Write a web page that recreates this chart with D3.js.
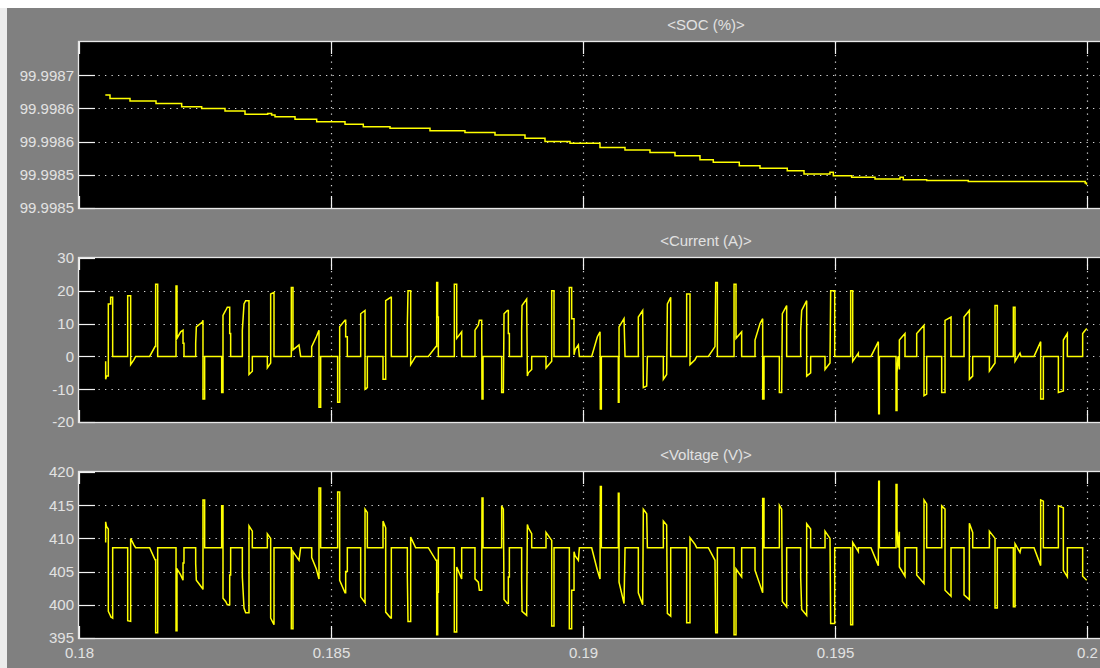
<!DOCTYPE html>
<html><head><meta charset="utf-8">
<script src="https://cdn.jsdelivr.net/npm/d3@7"></script>
<style>body{margin:0;background:#808080;overflow:hidden}svg{display:block}</style>
</head><body>
<svg id="c" width="1100" height="668"></svg>
<script>
const timeTicks = [0.18, 0.185, 0.19, 0.195, 0.2];
const socTicks = [99.9985, 99.99854, 99.99858, 99.99862, 99.99866];
const currentTicks = [-20, -10, 0, 10, 20, 30];
const voltageTicks = [395, 400, 405, 410, 415, 420];
const titles = ["<SOC (%)>", "<Current (A)>", "<Voltage (V)>"];

// SOC (%) step values: [time s, value]
const socData = [
[0.180522,99.998636],[0.180615,99.998632],[0.181012,99.998629],[0.181528,99.998626],
[0.182037,99.998622],[0.182434,99.998620],[0.182897,99.998617],[0.183294,99.998613],
[0.183744,99.998614],[0.183822,99.998612],[0.183889,99.998610],[0.184286,99.998607],
[0.184716,99.998604],[0.185278,99.998601],[0.185641,99.998598],[0.186171,99.998596],
[0.186964,99.998593],[0.187658,99.998591],[0.188254,99.998588],[0.188849,99.998584],
[0.189246,99.998580],[0.189742,99.998578],[0.190337,99.998573],[0.190833,99.998570],
[0.191329,99.998567],[0.191825,99.998563],[0.192321,99.998558],[0.192585,99.998555],
[0.193101,99.998551],[0.193512,99.998548],[0.194053,99.998545],[0.194385,99.998541],
[0.194900,99.998543],[0.194967,99.998539],[0.195331,99.998537],[0.195794,99.998535],
[0.196290,99.998537],[0.196355,99.998534],[0.196819,99.998533],[0.197645,99.998532],
[0.198207,99.998532],[0.199964,99.998530],[0.199990,99.998528]
];

// Current (A): [time s, value]
const currentData = [
[0.180529,-1.5],[0.180529,-7],[0.180545,-6],[0.180582,-6],[0.180582,16],[0.180628,16],[0.180628,18],[0.180668,18],[0.180668,0],
[0.180966,0],[0.180966,18.5],[0.181025,18.5],[0.181025,-2.5],[0.181091,-1],[0.181124,0],
[0.181402,0],[0.181508,3],[0.181521,3],[0.181521,22],[0.181561,22],[0.181561,0],
[0.181925,0],[0.181925,21.5],[0.181944,21.5],[0.181944,5.5],[0.182017,7.5],[0.182064,8],[0.182064,4],[0.182083,4],[0.182083,0],
[0.182315,0],[0.182315,4],[0.182328,9],[0.182447,10.5],[0.182460,11],[0.182460,-13],[0.182493,-13],[0.182493,0],
[0.182831,0],[0.182831,-11],[0.182857,-11],[0.182857,12.5],[0.182910,14],[0.182943,15],[0.182990,15],[0.182990,7],[0.183009,7],[0.183009,0],
[0.183241,0],[0.183241,8],[0.183274,16],[0.183307,17],[0.183373,17],[0.183373,-5.5],[0.183439,-4.5],[0.183439,0],
[0.183737,0],[0.183737,-3.5],[0.183803,-2],[0.183803,19],[0.183869,19.5],[0.183869,0],
[0.184213,0],[0.184213,21],[0.184246,21],[0.184246,2],[0.184365,3.5],[0.184398,0],
[0.184617,0],[0.184617,3],[0.184709,6],[0.184749,7.5],[0.184762,8],[0.184762,-15.5],[0.184795,-15.5],[0.184795,0],
[0.185132,0],[0.185132,-14],[0.185172,-14],[0.185172,9],[0.185278,11],[0.185291,11],[0.185291,6],[0.185324,6],[0.185324,0],
[0.185589,0],[0.185589,13],[0.185675,14],[0.185675,-10],[0.185721,-9.5],[0.185721,0],
[0.186032,0],[0.186032,-7],[0.186085,-7],[0.186085,17],[0.186184,18],[0.186197,18],[0.186197,0],
[0.186515,0],[0.186515,10],[0.186528,20],[0.186581,20],[0.186581,-2.5],[0.186680,0],
[0.186931,0],[0.187083,3],[0.187097,3],[0.187097,22.5],[0.187117,22.5],[0.187117,12],[0.187130,12],[0.187130,0],
[0.187447,0],[0.187447,22],[0.187494,22],[0.187494,5.5],[0.187593,7.5],[0.187593,0],
[0.187857,0],[0.187857,8],[0.187923,9.5],[0.187943,11],[0.187990,11],[0.187996,-13],[0.188016,-13],[0.188016,0],
[0.188386,0],[0.188386,-11],[0.188420,-11],[0.188433,13],[0.188499,14],[0.188519,14],[0.188519,7],[0.188539,7],[0.188539,0],
[0.188783,0],[0.188783,8],[0.188790,15.5],[0.188882,17.5],[0.188896,-6],[0.188916,-5],[0.188982,-4],[0.188982,0],
[0.189266,0],[0.189266,-3.5],[0.189379,-1.5],[0.189379,20],[0.189425,20],[0.189425,0],
[0.189729,0],[0.189729,21],[0.189775,21],[0.189775,11.5],[0.189822,11.5],[0.189822,0.5],[0.189842,2],[0.189908,3.5],[0.189928,0],
[0.190172,0],[0.190285,6],[0.190338,7.5],[0.190344,-16],[0.190364,-16],[0.190364,0],
[0.190701,0],[0.190701,-14],[0.190715,-14],[0.190715,9],[0.190814,11.5],[0.190834,0],
[0.191098,0],[0.191098,12],[0.191184,14],[0.191197,-9.5],[0.191264,-9],[0.191277,0],
[0.191594,0],[0.191594,-7],[0.191660,-5.5],[0.191674,16],[0.191740,18],[0.191740,0],
[0.192057,0],[0.192057,19],[0.192123,19],[0.192123,-2.5],[0.192223,-1],[0.192256,0],
[0.192487,0],[0.192619,3],[0.192633,22.5],[0.192666,22.5],[0.192666,0],
[0.192997,0],[0.192997,22],[0.193036,22],[0.193036,5.5],[0.193148,7.5],[0.193148,0],
[0.193413,0],[0.193413,5],[0.193512,10],[0.193565,11.5],[0.193565,-13],[0.193591,-13],[0.193591,0],
[0.193896,0],[0.193896,-11],[0.193942,-11],[0.193955,13],[0.194041,15.5],[0.194041,0],
[0.194319,0],[0.194319,8],[0.194339,14],[0.194438,17],[0.194438,-6],[0.194517,-5],[0.194517,0],
[0.194802,0],[0.194802,-4],[0.194901,-2],[0.194914,20],[0.194994,20],[0.194994,0],
[0.195311,0],[0.195311,20],[0.195351,20],[0.195351,-1.5],[0.195463,1],[0.195463,0],
[0.195714,0],[0.195860,4.5],[0.195867,-17.5],[0.195880,-17.5],[0.195880,0],
[0.196211,0],[0.196211,-16.5],[0.196230,-16.5],[0.196230,-5],[0.196250,0],[0.196277,-4],[0.196277,5],[0.196389,7],[0.196389,0],
[0.196621,0],[0.196621,7],[0.196766,9.5],[0.196766,-12],[0.196819,-11.5],[0.196819,0],
[0.197117,0],[0.197117,-11],[0.197183,-11],[0.197183,11],[0.197302,12],[0.197302,0],
[0.197560,0],[0.197560,12],[0.197666,14],[0.197666,-7],[0.197732,-6],[0.197732,0],
[0.198063,0],[0.198063,-4.5],[0.198175,-2],[0.198175,15.5],[0.198221,15.5],[0.198221,0],
[0.198539,0],[0.198539,15],[0.198572,15],[0.198572,-1.5],[0.198671,1],[0.198691,0],
[0.198949,0],[0.199081,4.5],[0.199081,-13],[0.199134,-13],[0.199134,0],
[0.199432,0],[0.199432,-11],[0.199531,-10.5],[0.199531,5],[0.199610,7],[0.199610,0],
[0.199914,0],[0.199914,7],[0.199994,8.5]
];

// Voltage (V): [time s, value]
const voltageData = [
[0.180529,409.4],[0.180529,412.5],[0.180545,411.8],[0.180582,411.4],[0.180582,399],[0.180628,398.3],[0.180628,398.2],[0.180668,398],[0.180668,408.6],
[0.180966,408.6],[0.180966,397.6],[0.181025,397.5],[0.181025,410],[0.181091,409],[0.181124,408.6],
[0.181402,408.6],[0.181508,406.8],[0.181521,406.8],[0.181521,395.8],[0.181561,395.8],[0.181561,408.6],
[0.181925,408.6],[0.181925,396.1],[0.181944,396.1],[0.181944,405.4],[0.182017,404.5],[0.182064,403.7],[0.182064,406.3],[0.182083,406.3],[0.182083,408.6],
[0.182315,408.6],[0.182315,406.2],[0.182328,403.7],[0.182447,402.5],[0.182460,402.3],[0.182460,415.8],[0.182493,415.8],[0.182493,408.6],
[0.182831,408.6],[0.182831,414.9],[0.182857,414.9],[0.182857,401],[0.182910,400.5],[0.182943,400],[0.182990,400],[0.182990,404.5],[0.183009,404.5],[0.183009,408.6],
[0.183241,408.6],[0.183241,404.2],[0.183274,399.5],[0.183307,398.8],[0.183373,398.8],[0.183373,411.9],[0.183439,411.1],[0.183439,408.6],
[0.183737,408.6],[0.183737,410.7],[0.183803,410],[0.183803,398],[0.183869,397],[0.183869,408.6],
[0.184213,408.6],[0.184213,396.4],[0.184246,396.4],[0.184246,408],[0.184365,406.7],[0.184398,408.6],
[0.184617,408.6],[0.184617,407.1],[0.184709,405.4],[0.184749,404.2],[0.184762,403.9],[0.184762,417.6],[0.184795,417.6],[0.184795,408.6],
[0.185132,408.6],[0.185132,417],[0.185172,417],[0.185172,403.7],[0.185278,401.8],[0.185291,401.8],[0.185291,405],[0.185324,405],[0.185324,408.6],
[0.185589,408.6],[0.185589,401.2],[0.185675,400.3],[0.185675,414.4],[0.185721,413.9],[0.185721,408.6],
[0.186032,408.6],[0.186032,412.6],[0.186085,411.6],[0.186085,398.9],[0.186184,398],[0.186197,398],[0.186197,408.6],
[0.186515,408.6],[0.186515,404.2],[0.186528,397.5],[0.186581,397.5],[0.186581,410.2],[0.186680,408.6],
[0.186931,408.6],[0.187083,406.7],[0.187097,406.7],[0.187097,395.5],[0.187117,395.5],[0.187117,401.9],[0.187130,401.9],[0.187130,408.6],
[0.187447,408.6],[0.187447,395.9],[0.187494,395.9],[0.187494,405.7],[0.187593,403.9],[0.187593,408.6],
[0.187857,408.6],[0.187857,403.9],[0.187923,403.4],[0.187943,402.2],[0.187990,402.2],[0.187996,416.1],[0.188016,416.1],[0.188016,408.6],
[0.188386,408.6],[0.188386,414.9],[0.188420,414.4],[0.188433,400.8],[0.188499,400.2],[0.188519,400.2],[0.188519,404.2],[0.188539,404.2],[0.188539,408.6],
[0.188783,408.6],[0.188783,404],[0.188790,399],[0.188882,398.4],[0.188896,412.1],[0.188916,411.6],[0.188982,410.7],[0.188982,408.6],
[0.189266,408.6],[0.189266,410.9],[0.189379,409.7],[0.189379,396.8],[0.189425,396.8],[0.189425,408.6],
[0.189729,408.6],[0.189729,396.4],[0.189775,396.4],[0.189775,402.2],[0.189822,402.2],[0.189822,408],[0.189842,407.4],[0.189908,406.7],[0.189928,408.6],
[0.190172,408.6],[0.190285,405.2],[0.190338,403.9],[0.190344,417.8],[0.190364,417.8],[0.190364,408.6],
[0.190701,408.6],[0.190701,416.8],[0.190715,416.8],[0.190715,403.4],[0.190814,400.2],[0.190834,408.6],
[0.191098,408.6],[0.191098,401.8],[0.191184,400],[0.191197,414.4],[0.191264,413.7],[0.191277,408.6],
[0.191594,408.6],[0.191594,412.6],[0.191660,412],[0.191674,398.7],[0.191740,398.3],[0.191740,408.6],
[0.192057,408.6],[0.192057,397.3],[0.192123,397.3],[0.192123,410.1],[0.192223,409.1],[0.192256,408.6],
[0.192487,408.6],[0.192619,406.7],[0.192633,395.8],[0.192666,395.8],[0.192666,408.6],
[0.192997,408.6],[0.192997,395.5],[0.193036,395.5],[0.193036,405.4],[0.193148,404.2],[0.193148,408.6],
[0.193413,408.6],[0.193413,405.2],[0.193512,403],[0.193565,401.8],[0.193565,416],[0.193591,416],[0.193591,408.6],
[0.193896,408.6],[0.193896,415],[0.193942,414.4],[0.193955,400.5],[0.194041,399.7],[0.194041,408.6],
[0.194319,408.6],[0.194319,404.2],[0.194339,399.3],[0.194438,398.4],[0.194438,412.2],[0.194517,411.4],[0.194517,408.6],
[0.194802,408.6],[0.194802,411.1],[0.194901,410],[0.194914,397.2],[0.194994,397.2],[0.194994,408.6],
[0.195311,408.6],[0.195311,397],[0.195351,397],[0.195351,409.4],[0.195463,408],[0.195463,408.6],
[0.195714,408.6],[0.195860,405.9],[0.195867,418.6],[0.195880,418.6],[0.195880,408.6],
[0.196211,408.6],[0.196211,418.1],[0.196230,418.1],[0.196230,411.5],[0.196250,408.6],[0.196277,411],[0.196277,405.7],[0.196389,404.3],[0.196389,408.6],
[0.196621,408.6],[0.196621,404.5],[0.196766,403.2],[0.196766,415.8],[0.196819,415.2],[0.196819,408.6],
[0.197117,408.6],[0.197117,414.9],[0.197183,414.4],[0.197183,402.2],[0.197302,401.3],[0.197302,408.6],
[0.197560,408.6],[0.197560,401.5],[0.197666,400.8],[0.197666,412.3],[0.197732,410.9],[0.197732,408.6],
[0.198063,408.6],[0.198063,411.1],[0.198175,410],[0.198175,399.5],[0.198221,399.5],[0.198221,408.6],
[0.198539,408.6],[0.198539,399.7],[0.198572,399.7],[0.198572,409.2],[0.198671,407.9],[0.198691,408.6],
[0.198949,408.6],[0.199081,405.9],[0.199081,415.8],[0.199134,415.6],[0.199134,408.6],
[0.199432,408.6],[0.199432,414.9],[0.199531,414.6],[0.199531,405.2],[0.199610,404.2],[0.199610,408.6],
[0.199914,408.6],[0.199914,404.3],[0.199994,403.7]
];

const svg = d3.select("#c");
const W = 1100, H = 668;
const FONT = "'Liberation Sans', Arial, sans-serif";
const TXT = "#e2e2e2";

// window chrome
svg.append("rect").attr("width", W).attr("height", H).attr("fill", "#808080");
svg.append("rect").attr("width", W).attr("height", 8).attr("fill", "#ffffff");
svg.append("rect").attr("y", 8).attr("width", 7).attr("height", H - 8).attr("fill", "#ececec");

const plotLeft = 79, plotRight = 1333;
const x = d3.scaleLinear().domain([0.18, 0.2]).range([plotLeft, 1087]);

const panels = [
  {top: 42, bottom: 208, domain: [99.9985, 99.9987], ticks: socTicks, fmt: d => d.toFixed(4), data: socData, curve: d3.curveStepAfter},
  {top: 258, bottom: 422, domain: [-20, 30], ticks: currentTicks, fmt: d => String(d), data: currentData, curve: d3.curveLinear},
  {top: 472, bottom: 638, domain: [395, 420], ticks: voltageTicks, fmt: d => String(d), data: voltageData, curve: d3.curveLinear}
];

panels.forEach((p, i) => {
  const y = d3.scaleLinear().domain(p.domain).range([p.bottom, p.top]);
  const g = svg.append("g");
  const clipId = "clip" + i;
  svg.append("clipPath").attr("id", clipId).append("rect")
    .attr("x", plotLeft).attr("y", p.top).attr("width", plotRight - plotLeft).attr("height", p.bottom - p.top);

  g.append("rect").attr("x", plotLeft).attr("y", p.top)
    .attr("width", plotRight - plotLeft).attr("height", p.bottom - p.top).attr("fill", "#000");

  // title
  g.append("text").attr("x", (plotLeft + plotRight) / 2).attr("y", p.top - 12)
    .attr("text-anchor", "middle").attr("font-family", FONT).attr("font-size", 15)
    .attr("fill", TXT).text(titles[i]);

  // horizontal dotted grid
  g.selectAll(".hg").data(p.ticks.filter(t => y(t) > p.top + 1 && y(t) < p.bottom - 1)).enter().append("line")
    .attr("x1", plotLeft).attr("x2", plotRight).attr("y1", d => Math.round(y(d)) + 0.5).attr("y2", d => Math.round(y(d)) + 0.5)
    .attr("stroke", "#d6d6d6").attr("stroke-width", 1.2).attr("stroke-dasharray", "1.3,5.2");
  // vertical dotted grid
  g.selectAll(".vg").data(timeTicks.filter(t => t > 0.18)).enter().append("line")
    .attr("y1", p.top).attr("y2", p.bottom).attr("x1", d => Math.round(x(d)) + 0.5).attr("x2", d => Math.round(x(d)) + 0.5)
    .attr("stroke", "#d6d6d6").attr("stroke-width", 1.2).attr("stroke-dasharray", "1.3,5.2");

  // tick marks
  g.selectAll(".yt").data(p.ticks).enter().append("line")
    .attr("x1", plotLeft).attr("x2", plotLeft + 16).attr("y1", d => Math.round(y(d)) + 0.5).attr("y2", d => Math.round(y(d)) + 0.5)
    .attr("stroke", "#f2f2f2").attr("stroke-width", 1.2);
  timeTicks.forEach(t => {
    const xx = Math.round(x(t)) + 0.5;
    g.append("line").attr("x1", xx).attr("x2", xx).attr("y1", p.top).attr("y2", p.top + 12).attr("stroke", "#f2f2f2").attr("stroke-width", 1.2);
    g.append("line").attr("x1", xx).attr("x2", xx).attr("y1", p.bottom - 12).attr("y2", p.bottom).attr("stroke", "#f2f2f2").attr("stroke-width", 1.2);
  });

  // data line
  const line = d3.line().x(d => x(d[0])).y(d => y(d[1])).curve(p.curve);
  g.append("path").datum(p.data).attr("d", line).attr("clip-path", `url(#${clipId})`)
    .attr("fill", "none").attr("stroke", "#ffff00").attr("stroke-width", 1.5).attr("stroke-linejoin", "miter");

  // border
  g.append("rect").attr("x", plotLeft - 0.5).attr("y", p.top - 0.5)
    .attr("width", plotRight - plotLeft).attr("height", p.bottom - p.top + 1)
    .attr("fill", "none").attr("stroke", "#e8e8e8").attr("stroke-width", 1.3);

  // y axis labels
  const ya = d3.axisLeft(y).tickValues(p.ticks).tickFormat(p.fmt).tickSize(0).tickPadding(5);
  const ag = svg.append("g").attr("transform", `translate(${plotLeft},0)`).call(ya);
  ag.select(".domain").remove();
  ag.selectAll("text").attr("font-family", FONT).attr("font-size", 15).attr("fill", TXT);

  if (i === 2) {
    const xa = d3.axisBottom(x).tickValues(timeTicks).tickFormat(d => String(+d.toFixed(3))).tickSize(0).tickPadding(9);
    const xg = svg.append("g").attr("transform", `translate(0,${p.bottom})`).call(xa);
    xg.select(".domain").remove();
    xg.selectAll("text").attr("font-family", FONT).attr("font-size", 15).attr("fill", TXT);
  }
});
</script>
</body></html>
